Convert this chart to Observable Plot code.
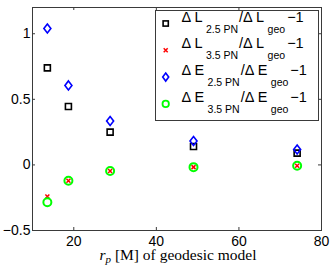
<!DOCTYPE html>
<html>
<head>
<meta charset="utf-8">
<script src="https://cdn.jsdelivr.net/npm/d3@7"></script>
<script src="https://cdn.jsdelivr.net/npm/@observablehq/plot@0.6"></script>
<style>
  html, body { margin: 0; padding: 0; background: #fff; }
</style>
</head>
<body>
<div id="chart"></div>
<script>
// ---- data ----
const rp = [13.6, 18.7, 28.8, 49.0, 74.1];
const dL25 = [0.74, 0.445, 0.25, 0.14, 0.09];
const dL35 = [-0.241, -0.121, -0.047, -0.017, -0.007];
const dE25 = [1.04, 0.606, 0.335, 0.182, 0.117];
const dE35 = [-0.284, -0.121, -0.047, -0.017, -0.007];
const xTicks = [20, 40, 60, 80];
const yTicks = [-0.5, 0, 0.5, 1];
const xDomain = [10, 80];
const yDomain = [-0.5, 1.2];

const W = 332, H = 266;
const mL = 32, mR = 11, mT = 7, mB = 36;
const plotW = W - mL - mR, plotH = H - mT - mB;

const rows = rp.map((x, i) => ({x, dL25: dL25[i], dL35: dL35[i], dE25: dE25[i], dE35: dE35[i]}));

// custom symbols (r = sqrt(size/pi))
const sqSym = {draw(c, size) { const r = Math.sqrt(size / Math.PI); c.rect(-r, -r, 2 * r, 2 * r); }};
const diaSym = {draw(c, size) { const r = Math.sqrt(size / Math.PI); const w = r * 0.78;
  c.moveTo(0, -r); c.lineTo(w, 0); c.lineTo(0, r); c.lineTo(-w, 0); c.closePath(); }};
const xSym = {draw(c, size) { const r = Math.sqrt(size / Math.PI);
  c.moveTo(-r, -r); c.lineTo(r, r); c.moveTo(r, -r); c.lineTo(-r, r); }};

const frameColor = "#3a3a3a";

const svg = Plot.plot({
  width: W, height: H,
  marginLeft: mL, marginRight: mR, marginTop: mT, marginBottom: mB,
  style: {fontFamily: "'Liberation Sans', Arial, sans-serif", fontSize: "14px", background: "#fff", color: "#000"},
  x: {domain: xDomain, ticks: xTicks, label: null},
  y: {domain: yDomain, ticks: yTicks, label: null},
  marks: [
    Plot.frame({stroke: frameColor, strokeWidth: 1}),
    // inward tick marks on all four sides
    Plot.tickX(xTicks, {x: d => d, insetTop: plotH - 3, stroke: frameColor}),
    Plot.tickX(xTicks, {x: d => d, insetBottom: plotH - 3, stroke: frameColor}),
    Plot.tickY(yTicks, {y: d => d, insetRight: plotW - 3, stroke: frameColor}),
    Plot.tickY(yTicks, {y: d => d, insetLeft: plotW - 3, stroke: frameColor}),
    Plot.axisX({ticks: xTicks, tickSize: 0, tickPadding: 6, tickFormat: d => String(d), fontSize: 14, label: null}),
    Plot.axisY({ticks: yTicks, tickSize: 0, tickPadding: 2, tickFormat: d => String(d).replace("-", "\u2212"), fontSize: 14, label: null}),
    Plot.dot(rows, {x: "x", y: "dL25", symbol: sqSym, r: 3, fill: "none", stroke: "#000", strokeWidth: 1.6}),
    Plot.dot(rows, {x: "x", y: "dL35", symbol: xSym, r: 2, fill: "none", stroke: "#ff0000", strokeWidth: 1.5}),
    Plot.dot(rows, {x: "x", y: "dE25", symbol: diaSym, r: 4.5, fill: "none", stroke: "#0000ff", strokeWidth: 1.6}),
    Plot.dot(rows, {x: "x", y: "dE35", symbol: "circle", r: 4, fill: "none", stroke: "#00ff00", strokeWidth: 2})
  ]
});

// x-axis label (serif, like LaTeX)
const sel = d3.select(svg);
const xl = sel.append("text")
  .attr("x", 178).attr("y", 259.5)
  .attr("text-anchor", "middle")
  .attr("font-family", "'Liberation Serif', 'DejaVu Serif', serif")
  .attr("font-size", 15.5)
  .attr("fill", "#000");
xl.append("tspan").attr("font-style", "italic").text("r");
xl.append("tspan").attr("font-style", "italic").attr("font-size", 11).attr("dy", 3).text("p");
xl.append("tspan").attr("dy", -3).text(" [M] of geodesic model");

// legend
const legendItems = [
  {q: "L", sub: "2.5 PN", sym: "square", color: "#000"},
  {q: "L", sub: "3.5 PN", sym: "x", color: "#ff0000"},
  {q: "E", sub: "2.5 PN", sym: "diamond", color: "#0000ff"},
  {q: "E", sub: "3.5 PN", sym: "circle", color: "#00ff00"}
];
const lg = sel.append("g").attr("text-anchor", "start");
lg.append("rect").attr("x", 155.5).attr("y", 10.5).attr("width", 163).attr("height", 110)
  .attr("fill", "#fff").attr("stroke", frameColor).attr("stroke-width", 1);
legendItems.forEach((it, i) => {
  const cy = 23.5 + i * 26.8, mx = 165.7;
  if (it.sym === "square") {
    lg.append("rect").attr("x", mx - 2.6).attr("y", cy - 2.6).attr("width", 5.2).attr("height", 5.2)
      .attr("fill", "none").attr("stroke", it.color).attr("stroke-width", 1.6);
  } else if (it.sym === "x") {
    lg.append("path").attr("d", `M${mx-2},${cy-2}L${mx+2},${cy+2}M${mx+2},${cy-2}L${mx-2},${cy+2}`)
      .attr("stroke", it.color).attr("stroke-width", 1.5).attr("fill", "none");
  } else if (it.sym === "diamond") {
    lg.append("path").attr("d", `M${mx},${cy-4}L${mx+3},${cy}L${mx},${cy+4}L${mx-3},${cy}Z`)
      .attr("stroke", it.color).attr("stroke-width", 1.6).attr("fill", "none");
  } else {
    lg.append("circle").attr("cx", mx).attr("cy", cy).attr("r", 3.2)
      .attr("stroke", it.color).attr("stroke-width", 1.8).attr("fill", "none");
  }
  const t = lg.append("text").attr("x", 181.5).attr("y", cy - 2).attr("text-anchor", "start")
    .attr("font-family", "'Liberation Sans', Arial, sans-serif").attr("font-size", 14.5).attr("fill", "#000");
  t.append("tspan").text("\u0394 " + it.q);
  t.append("tspan").attr("font-size", 10.5).attr("dx", 3.5).attr("dy", 11).text(it.sub);
  t.append("tspan").attr("dx", 1).attr("dy", -11).text("/\u0394 " + it.q);
  t.append("tspan").attr("font-size", 10.5).attr("dx", 3.5).attr("dy", 11).text("geo");
  t.append("tspan").attr("dx", 2).attr("dy", -11).text("\u22121");
});

document.getElementById("chart").appendChild(svg);
</script>
</body>
</html>
